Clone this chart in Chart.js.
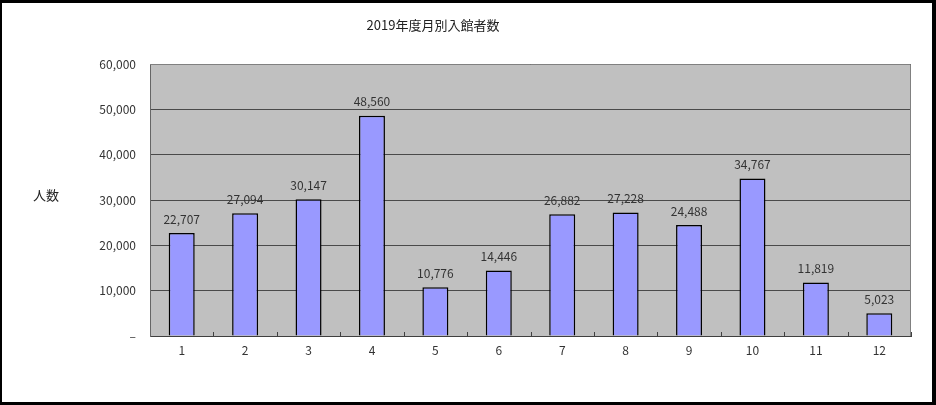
<!DOCTYPE html>
<html><head><meta charset="utf-8">
<script src="https://cdn.jsdelivr.net/npm/chart.js@4/dist/chart.umd.min.js"></script>
<style>html,body{margin:0;padding:0;background:#fff}#wrap{width:936px;height:405px;position:relative}</style>
</head><body><div id="wrap"><canvas id="c" width="936" height="405"></canvas></div>
<script>
const titleText = '2019年度月別入館者数';
const yAxisLabel = '人数';
const months = ['1','2','3','4','5','6','7','8','9','10','11','12'];
const visitors = [22707, 27094, 30147, 48560, 10776, 14446, 26882, 27228, 24488, 34767, 11819, 5023];
const yTicks = [0, 10000, 20000, 30000, 40000, 50000, 60000];

const FONT = '"Noto Sans CJK JP", "Noto Sans", sans-serif';
const fmt = v => v === 0 ? '–' : v.toLocaleString('en-US');

const deco = {
  id: 'deco',
  beforeDraw(chart) {
    const {ctx, chartArea: a} = chart;
    ctx.save();
    ctx.fillStyle = '#fff';
    ctx.fillRect(0, 0, chart.width, chart.height);
    ctx.fillStyle = '#C0C0C0';
    ctx.fillRect(a.left, a.top, a.right - a.left, a.bottom - a.top);
    ctx.restore();
  },
  afterDraw(chart) {
    const {ctx, chartArea: a} = chart;
    const xs = chart.scales.x;
    ctx.save();
    // plot border top/right
    ctx.strokeStyle = '#808080';
    ctx.lineWidth = 1;
    ctx.beginPath();
    ctx.moveTo(a.left, a.top + 0.5); ctx.lineTo(a.right - 0.5, a.top + 0.5); ctx.lineTo(a.right - 0.5, a.bottom);
    ctx.stroke();
    // x tick marks between categories (pointing up)
    ctx.strokeStyle = '#404040';
    const n = months.length;
    const step = (xs.right - xs.left) / n;
    ctx.beginPath();
    for (let i = 1; i <= n; i++) {
      const x = Math.round(xs.left + i * step) + 0.5;
      ctx.moveTo(x, a.bottom); ctx.lineTo(x, a.bottom - 4);
    }
    ctx.stroke();
    // data labels
    ctx.fillStyle = '#333';
    ctx.font = '12px ' + FONT;
    ctx.textAlign = 'center';
    ctx.textBaseline = 'middle';
    chart.getDatasetMeta(0).data.forEach((bar, i) => {
      ctx.fillText(fmt(visitors[i]), bar.x, bar.y - 14);
    });
    // title
    ctx.fillStyle = '#222';
    ctx.font = '13px ' + FONT;
    ctx.fillText(titleText, 433, 25);
    // y axis label
    ctx.fillText(yAxisLabel, 46, 195);
    // outer frame
    ctx.fillStyle = '#000';
    ctx.fillRect(0, 0, chart.width, 3);
    ctx.fillRect(0, chart.height - 3, chart.width, 3);
    ctx.fillRect(0, 0, 2, chart.height);
    ctx.fillRect(chart.width - 4, 0, 4, chart.height);
    ctx.restore();
  }
};

new Chart(document.getElementById('c'), {
  type: 'bar',
  data: {
    labels: months,
    datasets: [{
      data: visitors,
      backgroundColor: '#9999FF',
      borderColor: '#000',
      borderWidth: 1.5,
      barPercentage: 0.41,
      categoryPercentage: 1.0
    }]
  },
  options: {
    responsive: false,
    animation: false,
    events: [],
    layout: {padding: {left: 0, right: 25, top: 64, bottom: 0}},
    plugins: {legend: {display: false}, title: {display: false}, tooltip: {enabled: false}},
    scales: {
      x: {
        offset: true,
        grid: {display: false, drawTicks: false},
        border: {display: true, color: '#404040', width: 1},
        ticks: {color: '#333', font: {family: FONT, size: 12}, padding: 7},
        afterFit(s) { s.height = 69; }
      },
      y: {
        min: 0, max: 60000,
        afterBuildTicks(s) { s.ticks = yTicks.map(v => ({value: v})); },
        grid: {color: '#4a4a4a', lineWidth: 1, drawTicks: false},
        border: {display: true, color: '#666', width: 1},
        ticks: {color: '#333', font: {family: FONT, size: 12}, padding: 14, callback: v => fmt(v)},
        afterFit(s) { s.width = 150; }
      }
    }
  },
  plugins: [deco]
});
</script></body></html>
